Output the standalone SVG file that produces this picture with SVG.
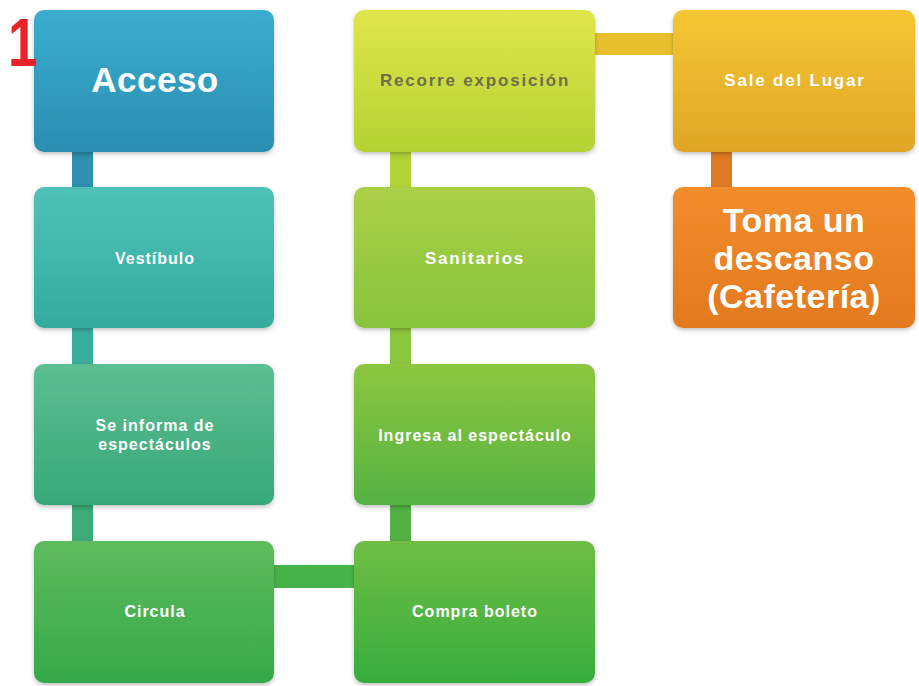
<svg xmlns="http://www.w3.org/2000/svg" width="919" height="686" viewBox="0 0 919 686">
<defs>
<linearGradient id="gAcc" x1="0" y1="0" x2="0" y2="1"><stop offset="0" stop-color="#3badd0"/><stop offset="1" stop-color="#2a8eb0"/></linearGradient>
<linearGradient id="gVes" x1="0" y1="0" x2="0" y2="1"><stop offset="0" stop-color="#50c2b8"/><stop offset="1" stop-color="#34ab9e"/></linearGradient>
<linearGradient id="gInf" x1="0" y1="0" x2="0" y2="1"><stop offset="0" stop-color="#5cbe92"/><stop offset="1" stop-color="#38a878"/></linearGradient>
<linearGradient id="gCir" x1="0" y1="0" x2="0" y2="1"><stop offset="0" stop-color="#5fbb5e"/><stop offset="1" stop-color="#36a948"/></linearGradient>
<linearGradient id="gCom" x1="0" y1="0" x2="0" y2="1"><stop offset="0" stop-color="#6fbe44"/><stop offset="1" stop-color="#38ad40"/></linearGradient>
<linearGradient id="gIng" x1="0" y1="0" x2="0" y2="1"><stop offset="0" stop-color="#8dc63f"/><stop offset="1" stop-color="#55b244"/></linearGradient>
<linearGradient id="gSan" x1="0" y1="0" x2="0" y2="1"><stop offset="0" stop-color="#abd046"/><stop offset="1" stop-color="#88c43e"/></linearGradient>
<linearGradient id="gRec" x1="0" y1="0" x2="0" y2="1"><stop offset="0" stop-color="#dfe64c"/><stop offset="1" stop-color="#b5d234"/></linearGradient>
<linearGradient id="gSal" x1="0" y1="0" x2="0" y2="1"><stop offset="0" stop-color="#f5c634"/><stop offset="1" stop-color="#dfa627"/></linearGradient>
<linearGradient id="gTom" x1="0" y1="0" x2="0" y2="1"><stop offset="0" stop-color="#f28d2c"/><stop offset="1" stop-color="#e3791f"/></linearGradient>
<filter id="sh" x="-5%" y="-5%" width="110%" height="115%"><feDropShadow dx="0" dy="2" stdDeviation="2" flood-color="#000" flood-opacity="0.25"/></filter>
</defs>
<style>
.box{filter:url(#sh);}
.t{font-family:"Liberation Sans",Arial,sans-serif;font-weight:bold;fill:#ffffff;text-anchor:middle;font-size:16px;letter-spacing:1px;}
.w{font-size:17px;letter-spacing:1.8px;}
.big{font-size:35px;letter-spacing:0.5px;}
.toma{font-size:34px;letter-spacing:0.5px;}
.dark{fill:#6e6e48;}
</style>
<rect width="919" height="686" fill="#ffffff"/>
<g id="connectors">
<rect x="72" y="150" width="21" height="40" fill="#2e8faf"/>
<rect x="72" y="326" width="21" height="40" fill="#3aae9e"/>
<rect x="72" y="503" width="21" height="40" fill="#3cab78"/>
<rect x="272" y="565" width="84" height="23" fill="#48b24a"/>
<rect x="390" y="503" width="21" height="40" fill="#52b043"/>
<rect x="390" y="326" width="21" height="40" fill="#8cc63f"/>
<rect x="390" y="150" width="21" height="40" fill="#b3d236"/>
<rect x="593" y="33" width="82" height="22" fill="#e8c02e"/>
<rect x="711" y="150" width="21" height="40" fill="#e07a24"/>
</g>
<g id="n-acceso"><rect class="box" x="34" y="10" width="240" height="142" rx="10" fill="url(#gAcc)"/><text class="t big" x="155" y="92">Acceso</text></g>
<g id="n-vestibulo"><rect class="box" x="34" y="187" width="240" height="141" rx="10" fill="url(#gVes)"/><text class="t" x="155" y="264">Vestíbulo</text></g>
<g id="n-informa"><rect class="box" x="34" y="364" width="240" height="141" rx="10" fill="url(#gInf)"/><text class="t" x="155" y="431">Se informa de</text><text class="t" x="155" y="450">espectáculos</text></g>
<g id="n-circula"><rect class="box" x="34" y="541" width="240" height="142" rx="10" fill="url(#gCir)"/><text class="t" x="155" y="617">Circula</text></g>
<g id="n-compra"><rect class="box" x="354" y="541" width="241" height="142" rx="10" fill="url(#gCom)"/><text class="t" x="475" y="617">Compra boleto</text></g>
<g id="n-ingresa"><rect class="box" x="354" y="364" width="241" height="141" rx="10" fill="url(#gIng)"/><text class="t" x="475" y="441">Ingresa al espectáculo</text></g>
<g id="n-sanitarios"><rect class="box" x="354" y="187" width="241" height="141" rx="10" fill="url(#gSan)"/><text class="t w" x="475" y="264">Sanitarios</text></g>
<g id="n-recorre"><rect class="box" x="354" y="10" width="241" height="142" rx="10" fill="url(#gRec)"/><text class="t w dark" x="475" y="86">Recorre exposición</text></g>
<g id="n-sale"><rect class="box" x="673" y="10" width="242" height="142" rx="10" fill="url(#gSal)"/><text class="t w" x="795" y="86">Sale del Lugar</text></g>
<g id="n-toma"><rect class="box" x="673" y="187" width="242" height="141" rx="10" fill="url(#gTom)"/><text class="t toma" x="794" y="232">Toma un</text><text class="t toma" x="794" y="270">descanso</text><text class="t toma" x="794" y="308">(Cafetería)</text></g>
<text transform="translate(8,66) scale(0.78,1)" font-family="Liberation Sans,Arial,sans-serif" font-weight="bold" font-size="68" fill="#e8232a">1</text>
</svg>
